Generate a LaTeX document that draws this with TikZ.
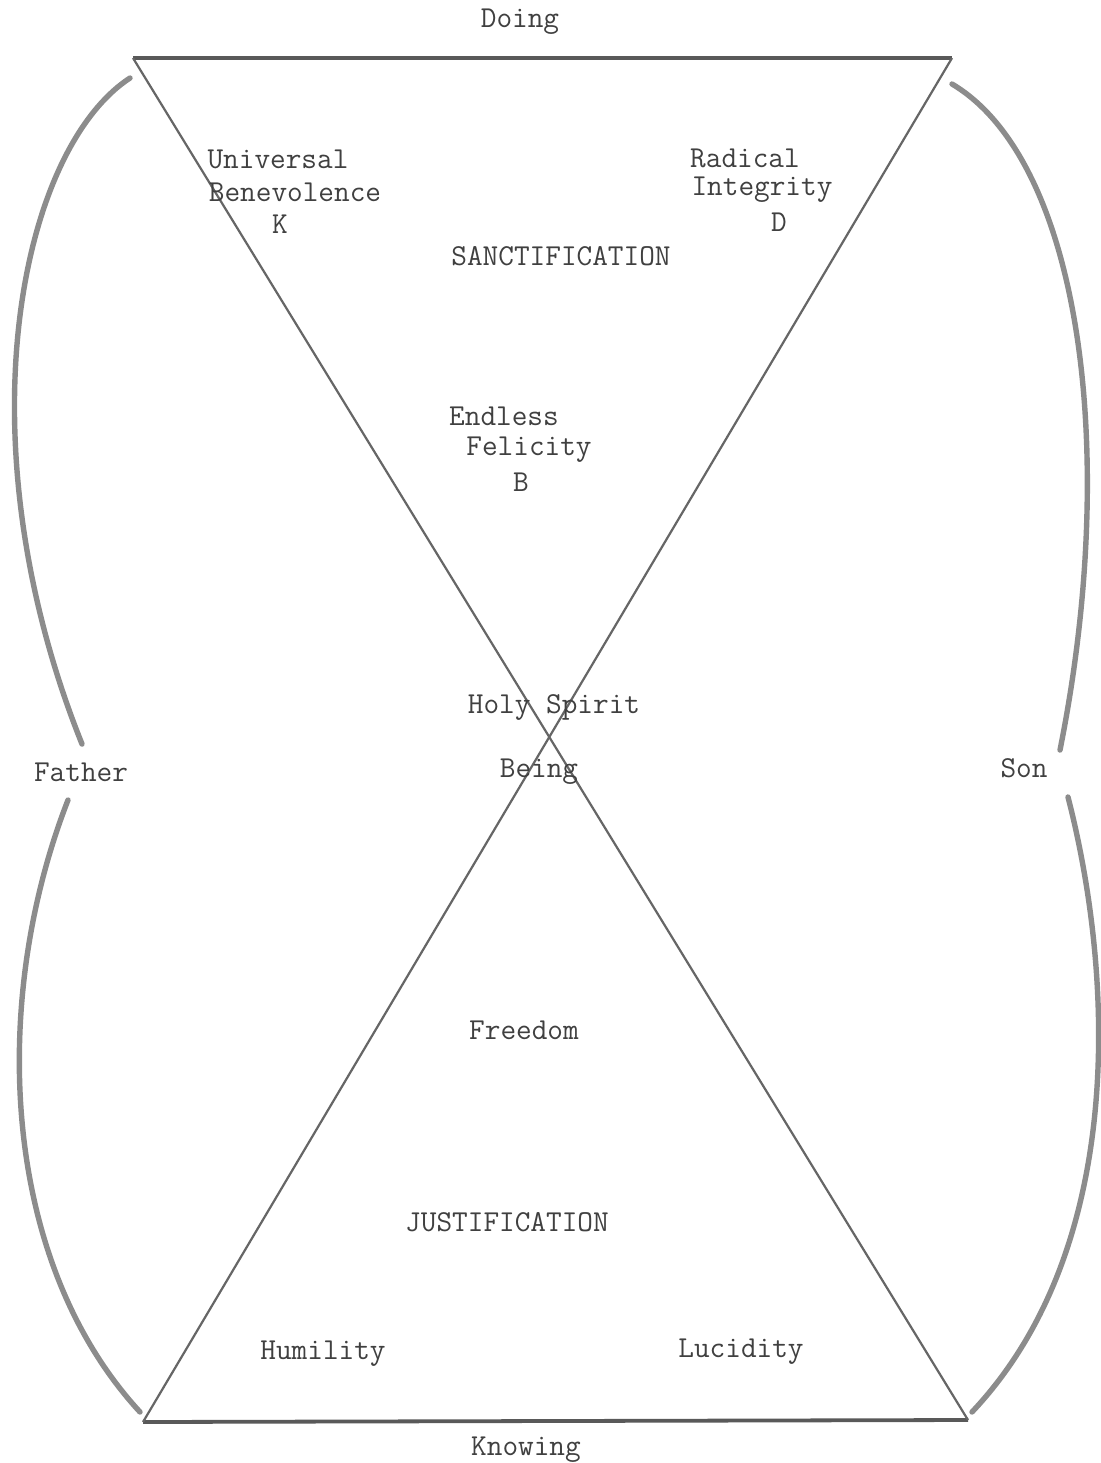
\documentclass[tikz,border=0pt]{standalone}
\usepackage{fontspec}
\begin{document}
\begin{tikzpicture}[x=0.5pt,y=-0.5pt,
  lbl/.style={font=\ttfamily\fontsize{15.2}{17}\selectfont, text=black!75, inner sep=0pt, anchor=center},
  diag/.style={draw=black!60, line width=1.1pt},
  hline/.style={draw=black!65, line width=1.9pt},
  arcline/.style={draw=black!45, line width=2.7pt, line cap=round}]
\useasboundingbox (0,0) rectangle (1100,1463);
\fill[white] (0,0) rectangle (1100,1463);
% vertices
\coordinate (TL) at (133,58);
\coordinate (TR) at (952,58);
\coordinate (BL) at (143,1422);
\coordinate (BR) at (968,1420);
% triangle lines
\draw[hline] (TL) -- (TR);
\draw[hline] (BL) -- (BR);
\draw[diag] (TL) -- (BR);
\draw[diag] (TR) -- (BL);
% arc end points
\coordinate (LU1) at (130,78);
\coordinate (LU2) at (82,744);
\coordinate (LL1) at (68,800);
\coordinate (LL2) at (140,1412);
\coordinate (RU1) at (952,84);
\coordinate (RU2) at (1060,750);
\coordinate (RL1) at (1068,797);
\coordinate (RL2) at (972,1412);
\draw[arcline] (LU1) .. controls (20,150) and (-40,440) .. (LU2);
\draw[arcline] (LL1) .. controls (-10,1000) and (0,1260) .. (LL2);
\draw[arcline] (RU1) .. controls (1080,160) and (1120,450) .. (RU2);
\draw[arcline] (RL1) .. controls (1115,980) and (1125,1250) .. (RL2);
% labels
\node[lbl] (doing) at (520,22) {Doing};
\node[lbl] (univ) at (278,159) {Universal};
\node[lbl] (bene) at (295,192) {Benevolence};
\node[lbl] (k) at (280,224) {K};
\node[lbl] (rad) at (745,158) {Radical};
\node[lbl] (integ) at (762,190) {Integrity};
\node[lbl] (d) at (779,222) {D};
\node[lbl] (sanct) at (561,256) {SANCTIFICATION};
\node[lbl] (endl) at (504,416) {Endless};
\node[lbl] (feli) at (529,450) {Felicity};
\node[lbl] (b) at (521,482) {B};
\node[lbl] (holy) at (554,707) {Holy Spirit};
\node[lbl] (being) at (539,772) {Being};
\node[lbl] (father) at (81,772) {Father};
\node[lbl] (son) at (1024,768) {Son};
\node[lbl] (free) at (524,1030) {Freedom};
\node[lbl] (just) at (507,1222) {JUSTIFICATION};
\node[lbl] (humil) at (323,1354) {Humility};
\node[lbl] (lucid) at (741,1352) {Lucidity};
\node[lbl] (know) at (526,1450) {Knowing};
\end{tikzpicture}
\end{document}
